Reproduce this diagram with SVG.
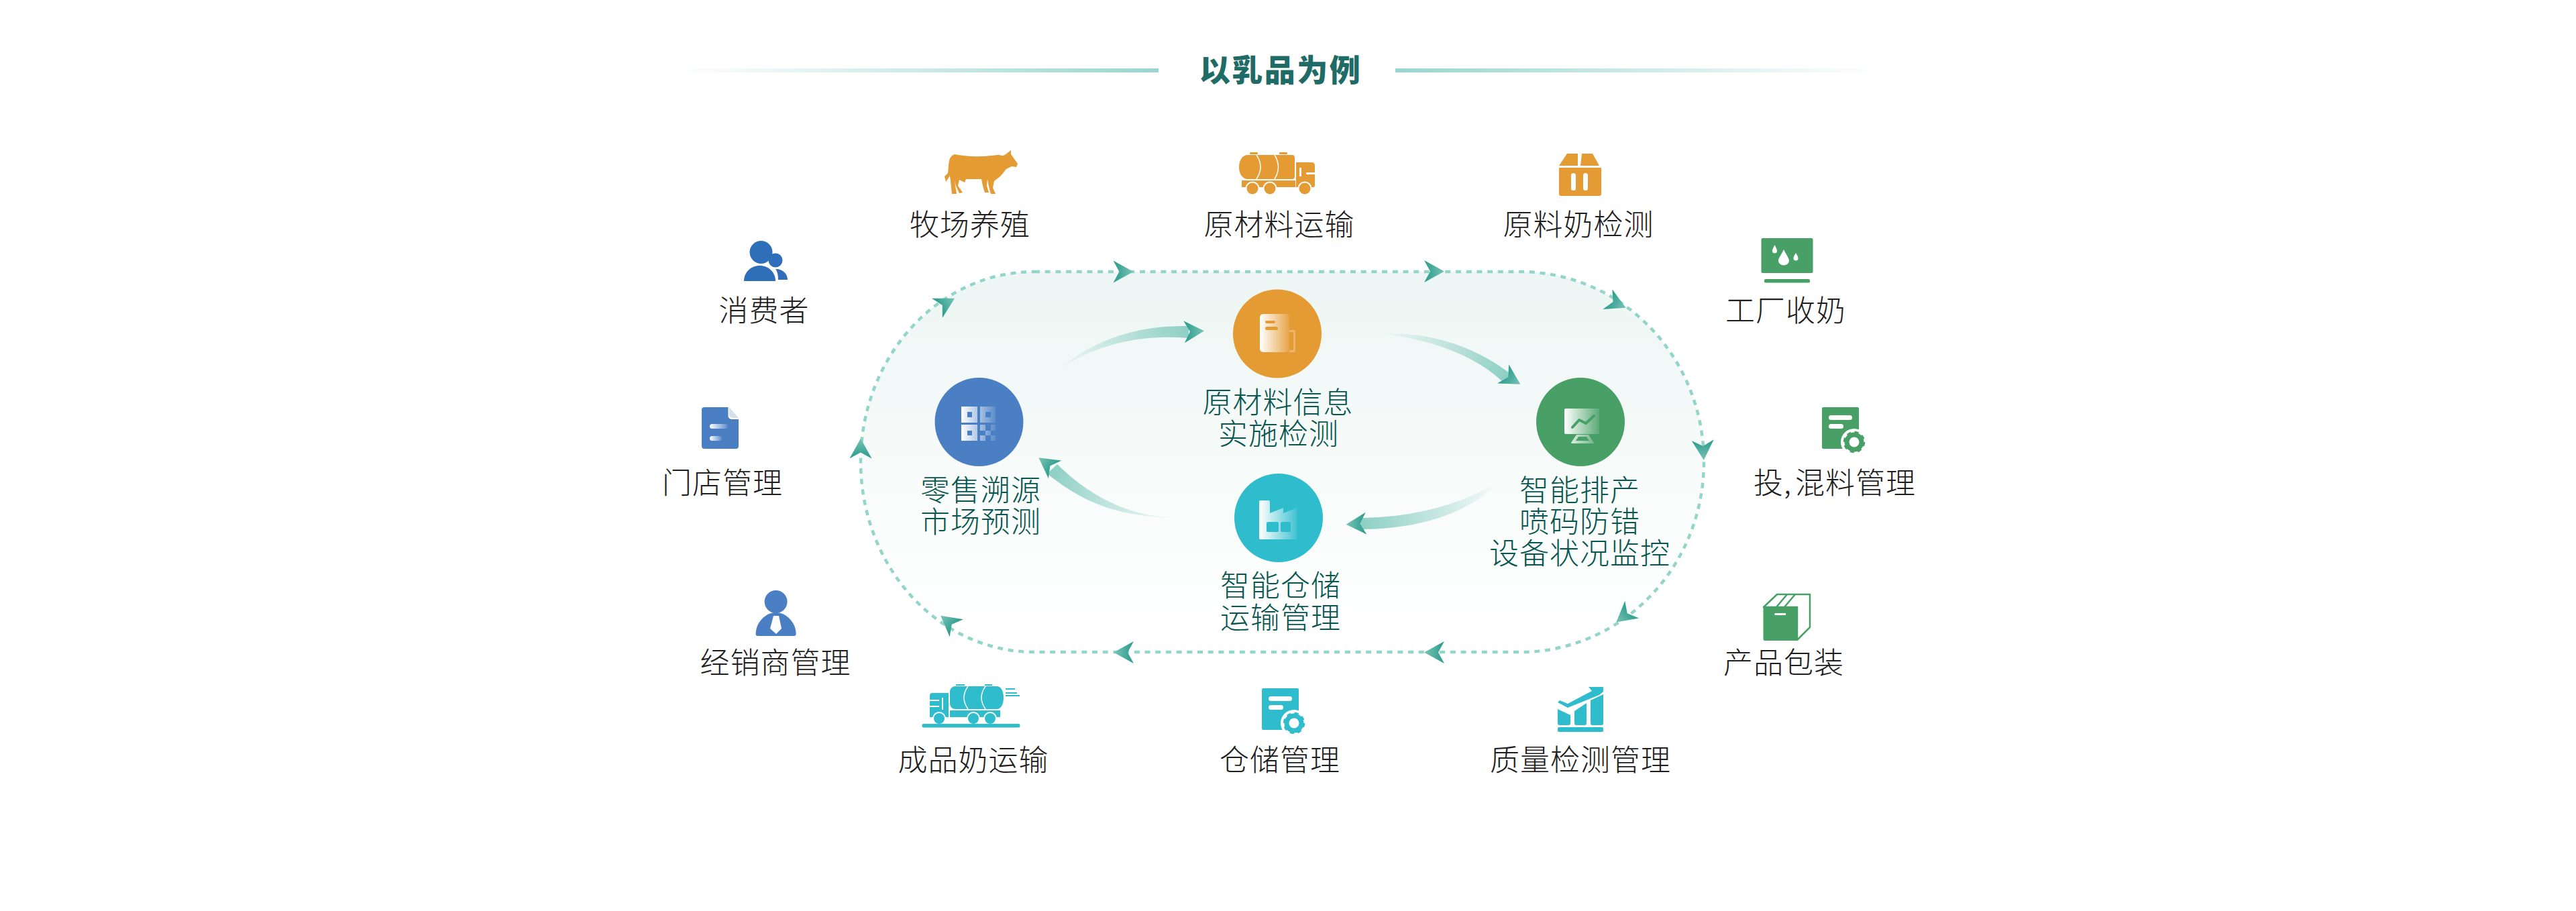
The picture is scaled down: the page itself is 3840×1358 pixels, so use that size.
<svg xmlns="http://www.w3.org/2000/svg" xmlns:xlink="http://www.w3.org/1999/xlink" width="3840" height="1358" viewBox="0 0 3840 1358">
<style>
text{font-family:"Noto Sans CJK SC","Noto Sans",sans-serif;font-size:44px;font-weight:300;text-anchor:middle;letter-spacing:1px}
.o{fill:#1e1e1e}
.i{fill:#06564f}
.t{fill:#1f6b66;font-size:46px;font-weight:900;letter-spacing:2.500px}
.org{fill:#e59b34}.blu{fill:#4a7fc4}.dbl{fill:#2f6eb8}.grn{fill:#48a066}.tea{fill:#2fbccd}
.w{fill:#fff}
</style>
<defs>
<linearGradient id="bg" x1="0" y1="0" x2="0" y2="1"><stop offset="0" stop-color="#edf6f4"/><stop offset=".95" stop-color="#fff"/></linearGradient>
<linearGradient id="ll" gradientUnits="userSpaceOnUse" x1="1010" y1="0" x2="1727" y2="0"><stop offset="0" stop-color="#9bd5cf" stop-opacity="0"/><stop offset="1" stop-color="#9bd5cf"/></linearGradient>
<linearGradient id="lr" gradientUnits="userSpaceOnUse" x1="2080" y1="0" x2="2800" y2="0"><stop offset="0" stop-color="#9bd5cf"/><stop offset="1" stop-color="#9bd5cf" stop-opacity="0"/></linearGradient>
<linearGradient id="hd" x1="0" y1="0" x2="1" y2="0"><stop offset="0" stop-color="#279b8b"/><stop offset="1" stop-color="#7cc4b6"/></linearGradient>
<linearGradient id="ic" x1="0" y1="0" x2="1" y2="0"><stop offset="0" stop-color="#fff"/><stop offset="1" stop-color="#fff" stop-opacity=".1"/></linearGradient>
<linearGradient id="b1" gradientUnits="userSpaceOnUse" x1="1575" y1="553" x2="1770" y2="495"><stop offset="0" stop-color="#8fd0c4" stop-opacity="0"/><stop offset="1" stop-color="#8fd0c4"/></linearGradient>
<linearGradient id="b2" gradientUnits="userSpaceOnUse" x1="2058" y1="497" x2="2245" y2="560"><stop offset="0" stop-color="#8fd0c4" stop-opacity="0"/><stop offset="1" stop-color="#8fd0c4"/></linearGradient>
<linearGradient id="b3" gradientUnits="userSpaceOnUse" x1="2235" y1="718" x2="2030" y2="780"><stop offset="0" stop-color="#8fd0c4" stop-opacity="0"/><stop offset="1" stop-color="#8fd0c4"/></linearGradient>
<linearGradient id="b4" gradientUnits="userSpaceOnUse" x1="1762" y1="772" x2="1570" y2="700"><stop offset="0" stop-color="#8fd0c4" stop-opacity="0"/><stop offset="1" stop-color="#8fd0c4"/></linearGradient>
<path id="ah" d="M-15,-16.500L15,0L-15,16.500L-6,0Z" fill="url(#hd)"/>
</defs>
<rect width="3840" height="1358" fill="#fff"/>

<g id="title">
<rect x="1010" y="102" width="717" height="6" fill="url(#ll)"/>
<rect x="2080" y="102" width="720" height="6" fill="url(#lr)"/>
<text class="t" x="1909" y="121">以乳品为例</text>
</g>

<g id="connectors">
<path d="M1542,405L2266,405A274,283.5 0 0 1 2540,688.5A274,283.5 0 0 1 2266,972L1542,972A259,283.5 0 0 1 1283,688.5A259,283.5 0 0 1 1542,405Z" fill="url(#bg)"/>
<path d="M1542,405L2266,405A274,283.5 0 0 1 2540,688.5A274,283.5 0 0 1 2266,972L1542,972A259,283.5 0 0 1 1283,688.5A259,283.5 0 0 1 1542,405Z" fill="none" stroke="#94d5c9" stroke-width="4.500" stroke-dasharray="8 7.7"/>
<use href="#ah" transform="translate(1674.5,405)"/>
<use href="#ah" transform="translate(2138,404.5)"/>
<use href="#ah" transform="translate(2410,452.5) rotate(25)"/>
<use href="#ah" transform="translate(2539,671) rotate(87)"/>
<use href="#ah" transform="translate(2421,918) rotate(141)"/>
<use href="#ah" transform="translate(2138,972.5) rotate(180)"/>
<use href="#ah" transform="translate(1675,972.5) rotate(180)"/>
<use href="#ah" transform="translate(1414,927) rotate(218)"/>
<use href="#ah" transform="translate(1283,668.5) rotate(-90)"/>
<use href="#ah" transform="translate(1410,452) rotate(-29)"/>
<path d="M1575,553C1625,510 1690,484 1772,486L1772,504C1695,498 1630,515 1575,553Z" fill="url(#b1)"/>
<use href="#ah" transform="translate(1780,494) rotate(-3)"/>
<path d="M2058,497C2125,495 2195,512 2255,560L2240,569C2195,527 2130,506 2058,497Z" fill="url(#b2)"/>
<use href="#ah" transform="translate(2253.5,565) rotate(31)"/>
<path d="M2235,718C2180,750 2115,771 2028,772L2028,789C2115,789 2190,765 2235,718Z" fill="url(#b3)"/>
<use href="#ah" transform="translate(2021.5,781) rotate(177)"/>
<path d="M1762,772C1690,772 1630,745 1576,692L1561,706C1610,745 1660,772 1762,772Z" fill="url(#b4)"/>
<use href="#ah" transform="translate(1560.5,691) rotate(216)"/>
</g>

<g id="hub-raw">
<circle class="org" cx="1904" cy="497.5" r="66"/>
<rect x="1878" y="468" width="44" height="57" rx="5" fill="url(#ic)"/>
<path d="M1922,492h7a2,2 0 0 1 2,2v29a2,2 0 0 1-2,2h-7v-3h6v-27h-6z" fill="#f0c68d" opacity=".6"/>
<rect class="org" x="1886" y="478" width="15" height="4" rx="2"/>
<rect class="org" x="1886" y="487" width="19" height="5" rx="2.5"/>
<text class="i"><tspan x="1905" y="616">原材料信息</tspan><tspan x="1906" y="663">实施检测</tspan></text>
</g>
<g id="hub-prod">
<circle class="grn" cx="2356" cy="629" r="66"/>
<path fill="url(#ic)" fill-rule="evenodd" d="M2334,609H2384V647H2334a2,2 0 0 1-2-2V611a2,2 0 0 1 2-2ZM2350,648H2368L2376,660a1,1 0 0 1-1,1H2343a1,1 0 0 1-1-1ZM2353,651L2349,657H2369L2365,651Z"/>
<polyline points="2344,637 2354,626 2364,631 2376,620" fill="none" stroke="#48a066" stroke-width="4" stroke-linecap="round" stroke-linejoin="round"/>
<text class="i"><tspan x="2355" y="747">智能排产</tspan><tspan x="2355" y="794">喷码防错</tspan><tspan x="2355" y="841">设备状况监控</tspan></text>
</g>
<g id="hub-store">
<circle class="tea" cx="1906" cy="772" r="66"/>
<path fill="url(#ic)" fill-rule="evenodd" d="M1879,746H1891a2,2 0 0 1 2,2V765L1913,757V765L1933,757V804H1879a2,2 0 0 1-2-2V748a2,2 0 0 1 2-2ZM1890,778a2,2 0 0 0-2,2V791a2,2 0 0 0 2,2H1904a2,2 0 0 0 2-2V780a2,2 0 0 0-2-2ZM1911,778a2,2 0 0 0-2,2V791a2,2 0 0 0 2,2H1922a2,2 0 0 0 2-2V780a2,2 0 0 0-2-2Z"/>
<text class="i"><tspan x="1909" y="889">智能仓储</tspan><tspan x="1909" y="937">运输管理</tspan></text>
</g>
<g id="hub-retail">
<circle class="blu" cx="1459.500" cy="629" r="66"/>
<path fill="url(#ic)" fill-rule="evenodd" d="M1433,606H1457V630H1433ZM1442,614V622H1449V614ZM1461,606H1484V630H1461ZM1469,614V622H1477V614ZM1433,633H1457V657H1433ZM1442,642V649H1449V642ZM1461,633H1469V642H1461ZM1469,642H1477V649H1469ZM1477,633H1484V642H1477ZM1461,649H1469V657H1461ZM1477,649H1484V657H1477Z"/>
<text class="i"><tspan x="1462" y="747">零售溯源</tspan><tspan x="1462" y="794">市场预测</tspan></text>
</g>

<g id="n-farm">
<path class="org" d="M1408,263L1413,258C1414,250 1414,243 1415,240C1416,235 1418,232 1423,230C1435,232 1450,234 1463,233C1472,233 1483,231 1490,231C1495,233 1497,232 1503,227L1507,224L1507,230L1512,237L1517,244L1515,249L1508,248L1500,252L1492,262L1482,270L1480,280L1484,289L1477,289L1474,278L1472,267L1471,277L1474,287L1468,287L1465,277L1463,267L1450,267L1440,267L1438,272L1430,268L1428,277L1435,287L1430,288L1425,277L1423,270L1426,289L1419,289L1417,270L1416,262L1410,271Z"/>
<text class="o" x="1446" y="351">牧场养殖</text>
</g>
<g id="n-rawtruck">
<rect class="org" x="1863" y="227" width="12" height="3" rx="1"/>
<rect class="org" x="1907" y="227" width="12" height="3" rx="1"/>
<path class="org" d="M1860,231H1926a4,4 0 0 1 4,4V263a4,4 0 0 1-4,4H1860C1852,267 1847,259 1847,249C1847,239 1852,231 1860,231Z"/>
<path d="M1873,231Q1885,249 1873,267M1900,231Q1911,249 1900,267" fill="none" stroke="#fff" stroke-width="1.500"/>
<rect class="org" x="1851" y="269" width="80" height="10"/>
<path class="org" d="M1932,242H1955Q1960,242 1960,247V276Q1960,279 1958,279H1932Z"/>
<rect class="w" x="1937" y="250" width="3" height="13" />
<rect class="w" x="1947" y="257" width="13" height="3"/>
<circle class="org" cx="1867" cy="281" r="9.500" stroke="#fff" stroke-width="2"/>
<circle class="org" cx="1893" cy="281" r="9.500" stroke="#fff" stroke-width="2"/>
<circle class="org" cx="1945" cy="281" r="9.500" stroke="#fff" stroke-width="2"/>
<text class="o" x="1907" y="351">原材料运输</text>
</g>
<g id="n-rawtest">
<path class="org" d="M2336,229H2352V247H2324ZM2358,229H2374L2384,247H2356Z"/>
<path class="org" d="M2324,250H2387V289a3,3 0 0 1-3,3H2327a3,3 0 0 1-3-3Z"/>
<rect class="w" x="2342" y="258" width="7" height="26" rx="3.500"/>
<rect class="w" x="2360" y="258" width="7" height="26" rx="3.500"/>
<text class="o" x="2353" y="351">原料奶检测</text>
</g>
<g id="n-collect">
<rect class="grn" x="2625.500" y="355" width="77" height="52" rx="2"/>
<rect class="grn" x="2630" y="416" width="68" height="5.500" rx="2"/>
<path class="w" d="M2645.500,365C2643,370 2642,372 2642,374a3.500,3.500 0 0 0 7,0C2649,372 2648,370 2645.500,365ZM2659,372C2654,382 2651,385 2651,389a8,6.500 0 0 0 16,0C2667,385 2664,382 2659,372ZM2677,377C2674.500,381 2673.500,383 2673.500,385a3.500,3.500 0 0 0 7,0C2680.500,383 2679.500,381 2677,377Z"/>
<text class="o" x="2662" y="479">工厂收奶</text>
</g>
<g id="n-mix">
<rect class="grn" x="2716" y="607" width="55" height="62" rx="2"/>
<rect class="w" x="2726" y="619" width="35" height="7" rx="3.500"/>
<rect class="w" x="2726" y="632" width="22" height="7" rx="3.500"/>
<circle class="w" cx="2764" cy="659" r="20"/>
<circle cx="2764" cy="659" r="11" fill="none" stroke="#48a066" stroke-width="7"/>
<circle cx="2764" cy="659" r="14.500" fill="none" stroke="#48a066" stroke-width="3.500" stroke-dasharray="6 5.400"/>
<text class="o" x="2735" y="736">投,<tspan dx="5">混料管理</tspan></text>
</g>
<g id="n-pack">
<path fill="#fff" stroke="#48a066" stroke-width="2.500" stroke-linejoin="round" d="M2629,905L2649,886H2698V935L2679,954V905Z"/>
<path d="M2648,905L2664,886M2660,905L2676,886" stroke="#48a066" stroke-width="2.500" fill="none"/>
<path class="grn" d="M2628.500,905H2679V955H2631a2.500,2.500 0 0 1-2.500-2.500Z"/>
<rect class="w" x="2645.500" y="914" width="16.500" height="3"/>
<text class="o" x="2659" y="1004">产品包装</text>
</g>
<g id="n-quality">
<path class="tea" d="M2322,1057L2341,1066V1078a3,3 0 0 1-3,3H2325a3,3 0 0 1-3-3ZM2347,1060L2365,1048V1078a3,3 0 0 1-3,3H2350a3,3 0 0 1-3-3ZM2371,1044L2390,1035V1078a3,3 0 0 1-3,3H2374a3,3 0 0 1-3-3Z"/>
<rect class="tea" x="2322" y="1084" width="68" height="7" rx="2"/>
<path class="tea" d="M2322,1047L2325,1044L2337,1049L2373,1030L2368,1024H2390V1031L2384,1036L2337,1055Z"/>
<text class="o" x="2356" y="1149">质量检测管理</text>
</g>
<g id="n-store">
<rect class="tea" x="1881" y="1026" width="55" height="62" rx="2"/>
<rect class="w" x="1891" y="1038" width="35" height="7" rx="3.500"/>
<rect class="w" x="1891" y="1051" width="22" height="7" rx="3.500"/>
<circle class="w" cx="1929" cy="1078" r="20"/>
<circle cx="1929" cy="1078" r="11" fill="none" stroke="#2fbccd" stroke-width="7"/>
<circle cx="1929" cy="1078" r="14.500" fill="none" stroke="#2fbccd" stroke-width="3.500" stroke-dasharray="6 5.400"/>
<text class="o" x="1908" y="1149">仓储管理</text>
</g>
<g id="n-delivery">
<rect class="tea" x="1425" y="1020" width="13" height="2" />
<rect class="tea" x="1468" y="1020" width="11" height="2"/>
<path class="tea" d="M1424,1023H1486C1492,1023 1496,1030 1496,1040C1496,1050 1492,1057 1486,1057H1424a8,8 0 0 1-8-8V1031a8,8 0 0 1 8-8Z"/>
<path d="M1443,1023Q1431,1040 1443,1057M1469,1023Q1457,1040 1469,1057" fill="none" stroke="#fff" stroke-width="1.500"/>
<rect class="tea" x="1416" y="1059" width="75" height="10"/>
<path class="tea" d="M1390,1033H1414V1069H1386V1037Q1386,1033 1390,1033Z"/>
<rect class="w" x="1386" y="1043" width="14" height="2"/>
<rect class="w" x="1386" y="1052" width="14" height="2"/>
<rect class="w" x="1404" y="1040" width="2" height="18"/>
<circle class="tea" cx="1400" cy="1071" r="9" stroke="#fff" stroke-width="2"/>
<circle class="tea" cx="1451" cy="1071" r="9" stroke="#fff" stroke-width="2"/>
<circle class="tea" cx="1476" cy="1071" r="9" stroke="#fff" stroke-width="2"/>
<rect class="tea" x="1374.500" y="1079" width="146" height="5.500" rx="2"/>
<rect class="tea" x="1499" y="1026" width="14" height="2"/>
<rect class="tea" x="1499" y="1032" width="17" height="2"/>
<rect class="tea" x="1499" y="1036" width="21" height="2"/>
<text class="o" x="1451" y="1149">成品奶运输</text>
</g>
<g id="n-dealer">
<circle class="blu" cx="1156.600" cy="897" r="17"/>
<path class="blu" d="M1156.600,913C1172,913 1186.600,928 1186.600,945a3,3 0 0 1-3,3H1129.600a3,3 0 0 1-3-3C1126.600,928 1141,913 1156.600,913Z"/>
<path class="w" d="M1153,918H1161L1165,937L1157,945L1148,937Z"/>
<text class="o" x="1156" y="1004">经销商管理</text>
</g>
<g id="n-shop">
<path class="blu" d="M1050,607H1085.500V620a5,5 0 0 0 5,5H1101V665a4,4 0 0 1-4,4H1050a4,4 0 0 1-4-4V611a4,4 0 0 1 4-4Z"/>
<path d="M1087,607L1101,623H1092a5,5 0 0 1-5-5Z" fill="#d5e0ef"/>
<rect x="1058" y="632" width="27" height="7" rx="3.500" fill="url(#ic)"/>
<rect x="1058" y="650" width="18" height="7" rx="3.500" fill="url(#ic)"/>
<text class="o" x="1077" y="736">门店管理</text>
</g>
<g id="n-consumer">
<circle class="dbl" cx="1134.500" cy="376" r="17"/>
<path class="dbl" d="M1132.500,396C1146,396 1156,406 1156,419H1109C1109,406 1119,396 1132.500,396Z"/>
<circle class="dbl" cx="1156" cy="388" r="10.500"/>
<path class="dbl" d="M1156,401C1167,401 1174,408 1174,417H1160C1160,410 1159,405 1156,401Z"/>
<text class="o" x="1139" y="479">消费者</text>
</g>
</svg>
